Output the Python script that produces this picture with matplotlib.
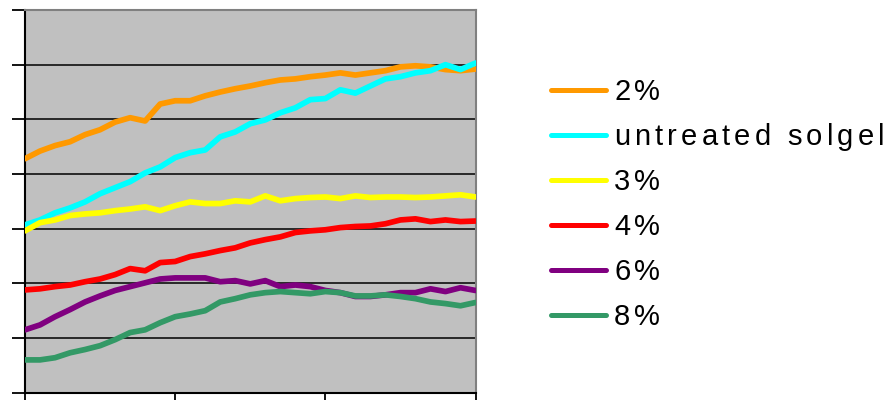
import matplotlib
matplotlib.use("Agg")
import matplotlib.pyplot as plt
from matplotlib.lines import Line2D
from matplotlib.font_manager import FontProperties
from matplotlib.textpath import TextToPath

# time axis (arbitrary units) and measured series
x = list(range(31))

series_names = ["2%", "untreated solgel", "3%", "4%", "6%", "8%"]
series_colors = ["#FF9900", "#00FFFF", "#FFFF00", "#FF0000", "#800080", "#339966"]

s2 = [42.8, 44.2, 45.2, 45.9, 47.2, 48.1, 49.5, 50.3, 49.7, 52.8, 53.4, 53.4, 54.3, 55.0, 55.6, 56.1,
      56.7, 57.2, 57.4, 57.8, 58.1, 58.5, 58.1, 58.5, 58.9, 59.6, 59.8, 59.6, 59.1, 58.9, 59.2]
untreated = [30.7, 31.6, 32.9, 33.8, 34.9, 36.4, 37.5, 38.6, 40.2, 41.3, 43.0, 43.9, 44.4, 46.8, 47.7, 49.2,
             49.9, 51.2, 52.1, 53.6, 53.8, 55.4, 54.8, 56.1, 57.4, 57.8, 58.5, 58.9, 60.0, 59.1, 60.3]
s3 = [29.6, 31.1, 31.6, 32.4, 32.7, 32.9, 33.3, 33.6, 34.0, 33.3, 34.2, 34.9, 34.6, 34.6, 35.1, 34.9,
      36.0, 35.1, 35.5, 35.7, 35.8, 35.5, 36.0, 35.7, 35.8, 35.8, 35.7, 35.8, 36.0, 36.2, 35.8]
s4 = [18.8, 19.0, 19.4, 19.7, 20.3, 20.8, 21.6, 22.7, 22.3, 23.8, 24.0, 24.9, 25.4, 26.0, 26.5, 27.4,
      28.0, 28.5, 29.3, 29.6, 29.8, 30.2, 30.4, 30.5, 30.9, 31.6, 31.8, 31.3, 31.6, 31.3, 31.4]
s6 = [11.5, 12.4, 13.9, 15.2, 16.6, 17.7, 18.7, 19.4, 20.1, 20.8, 21.0, 21.0, 21.0, 20.3, 20.5, 19.9,
      20.5, 19.4, 19.7, 19.4, 18.7, 18.3, 17.6, 17.6, 17.9, 18.3, 18.3, 19.0, 18.5, 19.2, 18.7]
s8 = [6.0, 6.0, 6.4, 7.3, 7.9, 8.6, 9.7, 11.0, 11.5, 12.8, 13.9, 14.4, 15.0, 16.6, 17.2, 17.9,
      18.3, 18.5, 18.3, 18.1, 18.5, 18.3, 17.7, 17.7, 17.9, 17.6, 17.2, 16.6, 16.3, 15.9, 16.5]

series_values = [s2, untreated, s3, s4, s6, s8]

y_ticks = [0, 10, 20, 30, 40, 50, 60, 70]
x_ticks = [0, 10, 20, 30]

W, H = 895, 400
fig = plt.figure(figsize=(W / 100, H / 100), dpi=100)
ax = fig.add_axes([25 / W, 1 - 392.7 / H, (475.5 - 25) / W, (392.7 - 10) / H])
ax.set_facecolor("#C0C0C0")
ax.set_xlim(x_ticks[0], x_ticks[-1])
ax.set_ylim(y_ticks[0], y_ticks[-1])
ax.set_xticks(x_ticks)
ax.set_yticks(y_ticks)
ax.set_xticklabels([])
ax.set_yticklabels([])
ax.tick_params(axis="y", direction="out", length=9.5, width=1.3, color="black")
ax.tick_params(axis="x", direction="out", length=8, width=1.3, color="black")
for yv in y_ticks[1:-1]:
    ax.axhline(yv, color="black", lw=1.1, zorder=1)
for side in ("left", "bottom"):
    ax.spines[side].set_color("black")
    ax.spines[side].set_linewidth(1.5)
for side in ("top", "right"):
    ax.spines[side].set_color("#808080")
    ax.spines[side].set_linewidth(1.5)

for vals, col in zip(series_values, series_colors):
    ax.plot(x, vals, color=col, lw=4.1, solid_joinstyle="round", solid_capstyle="round",
            zorder=3, clip_on=True)

# legend: colored handles plus letter-spaced labels
font = FontProperties(family="Liberation Sans", size=21)
t2p = TextToPath()
px_per_pt = 100 / 72
spacing_px = 4.2
row0, row_step = 90, 45
for i, (name, col) in enumerate(zip(series_names, series_colors)):
    yc = row0 + i * row_step
    fig.add_artist(Line2D([551 / W, 606 / W], [1 - yc / H, 1 - yc / H], color=col, lw=3.6,
                          solid_capstyle="round", transform=fig.transFigure))
    xp = 614
    for ch in name:
        fig.text(xp / W, 1 - (yc + 9.8) / H, ch, fontproperties=font, color="black",
                 ha="left", va="baseline")
        if ch == " ":
            w = t2p.get_text_width_height_descent("a a", font, ismath=False)[0] - \
                t2p.get_text_width_height_descent("aa", font, ismath=False)[0]
        else:
            w = t2p.get_text_width_height_descent(ch, font, ismath=False)[0]
        xp += w * px_per_pt + spacing_px

fig.savefig("out.png", dpi=100)
